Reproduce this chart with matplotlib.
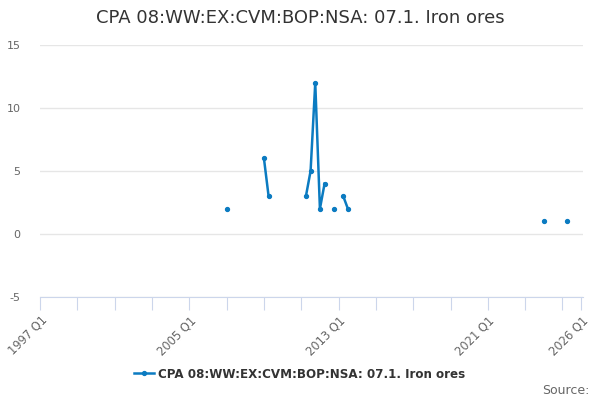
import numpy as np
import matplotlib
matplotlib.use("Agg")
import matplotlib.pyplot as plt
import pandas as pd

plt.rcParams["axes.unicode_minus"] = False

# observed quarters and values (gaps in between are missing data)
obs_quarters = ["2007 Q1", "2009 Q1", "2009 Q2", "2011 Q2", "2011 Q3", "2011 Q4",
                "2012 Q1", "2012 Q2", "2012 Q4", "2013 Q2", "2013 Q3",
                "2024 Q1", "2025 Q2"]
obs_values = [2, 6, 3, 3, 5, 12, 2, 4, 2, 3, 2, 1, 1]

tick_labels = ["1997 Q1", "2005 Q1", "2013 Q1", "2021 Q1", "2026 Q1"]
series_name = "CPA 08:WW:EX:CVM:BOP:NSA: 07.1. Iron ores"

# full quarterly index so missing quarters break the line
idx = pd.period_range("1997Q1", "2026Q1", freq="Q")
s = pd.Series(np.nan, index=idx)
for q, v in zip(obs_quarters, obs_values):
    s[pd.Period(q.replace(" ", ""), freq="Q")] = v
x = np.arange(len(idx))

line_col = "#0b7bc1"

fig = plt.figure(figsize=(6, 4), dpi=100)
ax = fig.add_axes([0.0667, 0.2575, 0.905, 0.63])

ax.plot(x, s.values, color=line_col, lw=1.8, marker="o", ms=2.8, zorder=3)

ax.set_ylim(-5, 15)
ax.set_yticks([-5, 0, 5, 10, 15])
ax.set_xlim(0, len(idx) - 1 + 0.4)

# gridlines
ax.grid(axis="y", color="#e6e6e6", lw=1)
ax.set_axisbelow(True)
for side in ["top", "right", "left"]:
    ax.spines[side].set_visible(False)
ax.spines["bottom"].set_color("#ccd6eb")
ax.spines["bottom"].set_position(("data", -5))

# ticks every 2 years, labels at chosen quarters
minor_pos = [i for i in range(0, len(idx), 8)] + [len(idx) - 1]
ax.set_xticks(minor_pos)
lab = []
for i in minor_pos:
    p = idx[i]
    name = "%d Q%d" % (p.year, p.quarter)
    lab.append(name if name in tick_labels else "")
ax.set_xticklabels(lab, rotation=45, ha="right", rotation_mode="anchor",
                   fontsize=8.3, color="#666666")
ax.tick_params(axis="x", length=9, color="#ccd6eb", pad=3)
ax.tick_params(axis="y", length=0, labelsize=8, labelcolor="#666666", pad=14)

fig.text(0.5, 0.955, series_name, ha="center", va="center",
         fontsize=13, color="#333333")

# legend below chart
leg = ax.legend([series_name], loc="center", frameon=False,
                prop={"weight": "bold", "size": 8.6}, handlelength=1.6,
                handletextpad=0.4)
leg.get_texts()[0].set_color("#333333")
leg.set_bbox_to_anchor((0.5, 0.065), transform=fig.transFigure)

fig.text(0.983, 0.025, "Source:", ha="right", va="center",
         fontsize=9, color="#666666")

fig.savefig("out.png", dpi=100)
